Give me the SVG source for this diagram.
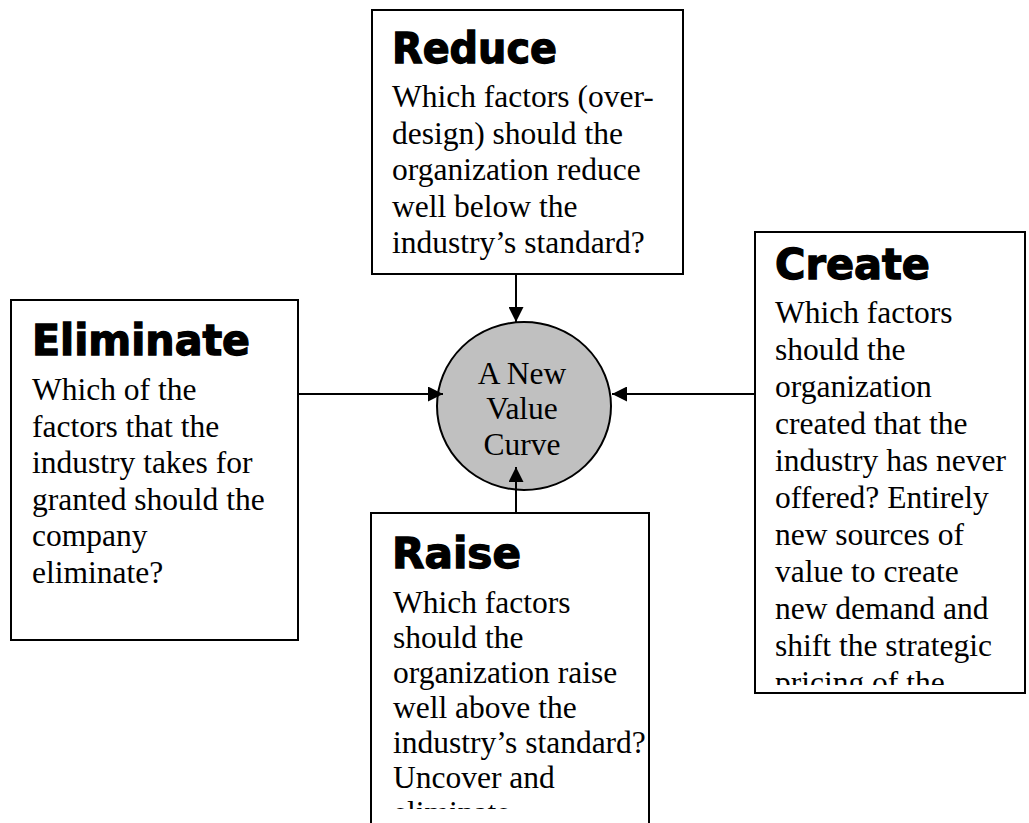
<svg xmlns="http://www.w3.org/2000/svg" width="1029" height="823" viewBox="0 0 1029 823">
  <style>
    .box { fill: #ffffff; stroke: #000000; stroke-width: 2; }
    .head { font-family: "DejaVu Sans", "Liberation Sans", sans-serif; font-weight: bold; font-size: 42px; fill: #000; stroke: #000; stroke-width: 1.3; }
    .body { font-family: "Liberation Serif", "Times New Roman", serif; font-size: 31.5px; fill: #000; }
    .hub { fill: #c0c0c0; stroke: #000; stroke-width: 2; }
    .link { stroke: #000; stroke-width: 2; fill: none; marker-end: url(#arrow); }
  </style>
  <defs>
    <marker id="arrow" viewBox="0 0 10 10" refX="10" refY="5" markerWidth="15" markerHeight="15" markerUnits="userSpaceOnUse" orient="auto">
      <path d="M0,0 L10,5 L0,10 z" fill="#000"/>
    </marker>
    <clipPath id="clipCreate"><rect x="756" y="233" width="268" height="452"/></clipPath>
    <clipPath id="clipRaise"><rect x="372" y="514" width="276" height="295"/></clipPath>
  </defs>

  <rect width="1029" height="823" fill="#ffffff"/>

  <!-- hub -->
  <g id="hub">
    <ellipse class="hub" cx="524" cy="406" rx="87" ry="84"/>
    <text class="body" text-anchor="middle" x="522" y="384">A New</text>
    <text class="body" text-anchor="middle" x="522" y="419">Value</text>
    <text class="body" text-anchor="middle" x="522" y="455">Curve</text>
  </g>

  <!-- Reduce -->
  <g id="reduce">
    <rect class="box" x="372" y="10" width="311" height="264"/>
    <text class="head" x="392" y="63" textLength="165" lengthAdjust="spacingAndGlyphs">Reduce</text>
    <text class="body" x="392" y="107">Which factors (over-</text>
    <text class="body" x="392" y="143.5">design) should the</text>
    <text class="body" x="392" y="180">organization reduce</text>
    <text class="body" x="392" y="216.5">well below the</text>
    <text class="body" x="392" y="253">industry’s standard?</text>
  </g>

  <!-- Eliminate -->
  <g id="eliminate">
    <rect class="box" x="11" y="300" width="287" height="340"/>
    <text class="head" x="32" y="355" textLength="218" lengthAdjust="spacingAndGlyphs">Eliminate</text>
    <text class="body" x="32" y="400">Which of the</text>
    <text class="body" x="32" y="436.5">factors that the</text>
    <text class="body" x="32" y="473">industry takes for</text>
    <text class="body" x="32" y="509.5">granted should the</text>
    <text class="body" x="32" y="546">company</text>
    <text class="body" x="32" y="582.5">eliminate?</text>
  </g>

  <!-- Create -->
  <g id="create">
    <rect class="box" x="755" y="232" width="270" height="461"/>
    <text class="head" x="775" y="279" textLength="155" lengthAdjust="spacingAndGlyphs">Create</text>
    <g clip-path="url(#clipCreate)">
      <text class="body" x="775" y="323">Which factors</text>
      <text class="body" x="775" y="360">should the</text>
      <text class="body" x="775" y="397">organization</text>
      <text class="body" x="775" y="434">created that the</text>
      <text class="body" x="775" y="471">industry has never</text>
      <text class="body" x="775" y="508">offered? Entirely</text>
      <text class="body" x="775" y="545">new sources of</text>
      <text class="body" x="775" y="582">value to create</text>
      <text class="body" x="775" y="619">new demand and</text>
      <text class="body" x="775" y="656">shift the strategic</text>
      <text class="body" x="775" y="693">pricing of the</text>
    </g>
  </g>

  <!-- Raise -->
  <g id="raise">
    <rect class="box" x="371" y="513" width="278" height="330"/>
    <text class="head" x="392" y="568" textLength="129" lengthAdjust="spacingAndGlyphs">Raise</text>
    <g clip-path="url(#clipRaise)">
      <text class="body" x="393" y="613">Which factors</text>
      <text class="body" x="393" y="648">should the</text>
      <text class="body" x="393" y="683">organization raise</text>
      <text class="body" x="393" y="718">well above the</text>
      <text class="body" x="393" y="753">industry’s standard?</text>
      <text class="body" x="393" y="788">Uncover and</text>
      <text class="body" x="393" y="823">eliminate</text>
    </g>
  </g>

  <!-- connectors, drawn last so their heads stay visible over the hub -->
  <g id="connectors">
    <line class="link" x1="516" y1="274" x2="516" y2="322"/>
    <line class="link" x1="298" y1="394" x2="443" y2="394"/>
    <line class="link" x1="755" y1="394" x2="612" y2="394"/>
    <line class="link" x1="516" y1="513" x2="516" y2="467"/>
  </g>
</svg>
